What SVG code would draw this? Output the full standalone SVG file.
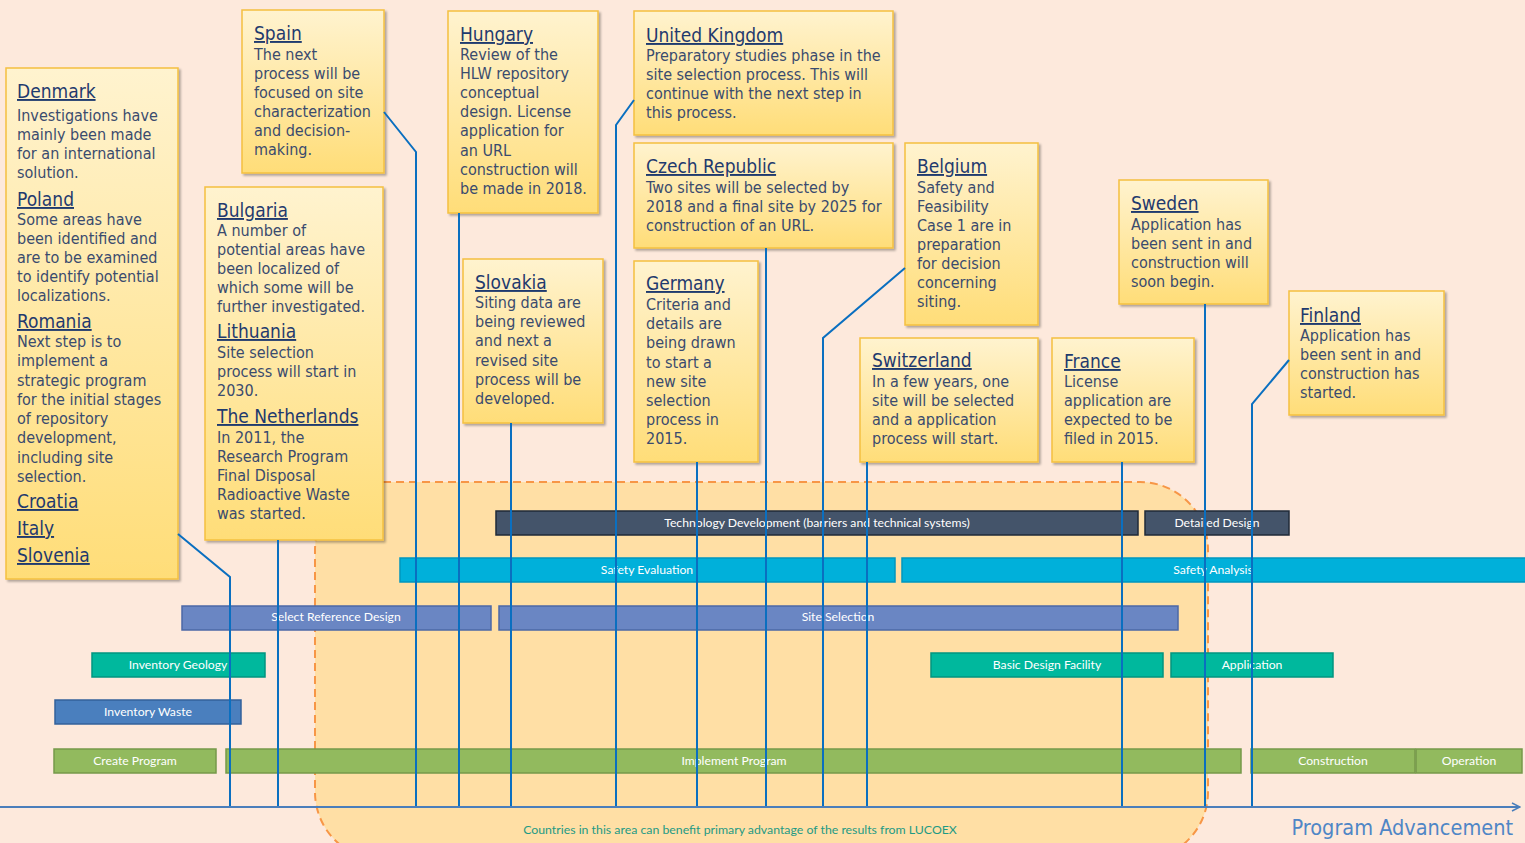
<svg xmlns="http://www.w3.org/2000/svg" width="1525" height="843" viewBox="0 0 1525 843">
<defs>
<linearGradient id="yg" x1="0" y1="0" x2="0" y2="1">
<stop offset="0" stop-color="#FFF3CF"/>
<stop offset="1" stop-color="#FFDD78"/>
</linearGradient>
<filter id="sh" x="-10%" y="-10%" width="130%" height="130%">
<feDropShadow dx="2" dy="2" stdDeviation="1.2" flood-color="#000" flood-opacity="0.3"/>
</filter>
<marker id="arr" viewBox="0 0 10 10" refX="9" refY="5" markerWidth="10" markerHeight="10" markerUnits="userSpaceOnUse" orient="auto">
<path d="M1,1 L9,5 L1,9" fill="none" stroke="#4A7EBB" stroke-width="1.5"/>
</marker>
<style>
.box rect { fill: url(#yg); stroke: #F5C040; stroke-width: 1.5; filter: url(#sh); }
.t { font-family: 'DejaVu Sans Condensed', 'Liberation Sans', sans-serif; font-size: 19px; fill: #1F3A6E; text-decoration: underline; }
.b { font-family: 'DejaVu Sans Condensed', 'Liberation Sans', sans-serif; font-size: 16px; fill: #3A4B6E; }
.bar text { font-family: Lato, 'Liberation Sans', sans-serif; font-size: 12.2px; fill: #FFFFFF; text-anchor: middle; }
.dk { fill: #44546A; stroke: #1F2A38; stroke-width: 1.5; }
.cy { fill: #00B0DA; stroke: #0096BE; stroke-width: 1.5; }
.pu { fill: #6A86C3; stroke: #4C68A6; stroke-width: 1.5; }
.te { fill: #00B89D; stroke: #009580; stroke-width: 1.5; }
.bl { fill: #4A7FBE; stroke: #33619A; stroke-width: 1.5; }
.gr { fill: #92BA5E; stroke: #76994A; stroke-width: 1.5; }
.conn path { stroke: #0A6FC0; stroke-width: 2; fill: none; }
</style>
</defs>

<rect x="0" y="0" width="1525" height="843" fill="#FDE9DC"/>

<g id="benefit-area">
<rect x="315" y="482" width="893" height="378" rx="68" ry="68" fill="#FFDFA5" stroke="#F79646" stroke-width="2" stroke-dasharray="8,5"/>
<text x="740" y="834" font-family="Lato, 'Liberation Sans', sans-serif" font-size="12.3" fill="#1E9A84" text-anchor="middle">Countries in this area can benefit primary advantage of the results from LUCOEX</text>
</g>

<g id="bars" class="bar">
<rect class="dk" x="496" y="511" width="642" height="24"/><text x="817" y="526.5">Technology Development (barriers and technical systems)</text>
<rect class="dk" x="1145" y="511" width="144" height="24"/><text x="1217" y="526.5">Detailed Design</text>
<rect class="cy" x="400" y="558" width="495" height="24"/><text x="647" y="573.5">Safety Evaluation</text>
<rect class="cy" x="902" y="558" width="630" height="24"/><text x="1213" y="573.5">Safety Analysis</text>
<rect class="pu" x="182" y="606" width="309" height="24"/><text x="336" y="620.5">Select Reference Design</text>
<rect class="pu" x="499" y="606" width="679" height="24"/><text x="838" y="620.5">Site Selection</text>
<rect class="te" x="92" y="653" width="173" height="24"/><text x="178" y="668.5">Inventory Geology</text>
<rect class="te" x="931" y="653" width="232" height="24"/><text x="1047" y="668.5">Basic Design Facility</text>
<rect class="te" x="1171" y="653" width="162" height="24"/><text x="1252" y="668.5">Application</text>
<rect class="bl" x="55" y="700" width="186" height="24"/><text x="148" y="715.5">Inventory Waste</text>
<rect class="gr" x="54" y="749" width="162" height="24"/><text x="135" y="764.5">Create Program</text>
<rect class="gr" x="226" y="749" width="1015" height="24"/><text x="734" y="764.5">Implement Program</text>
<rect class="gr" x="1251" y="749" width="164" height="24"/><text x="1333" y="764.5">Construction</text>
<rect class="gr" x="1416" y="749" width="106" height="24"/><text x="1469" y="764.5">Operation</text>
</g>

<g id="denmark" class="box">
<rect x="6" y="68" width="172" height="511"/>
<text class="t" x="17" y="98">Denmark</text>
<text class="b"><tspan x="17" y="121">Investigations have</tspan><tspan x="17" y="140">mainly been made</tspan><tspan x="17" y="159">for an international</tspan><tspan x="17" y="178">solution.</tspan></text>
<text class="t" x="17" y="206">Poland</text>
<text class="b"><tspan x="17" y="225">Some areas have</tspan><tspan x="17" y="244">been identified and</tspan><tspan x="17" y="263">are to be examined</tspan><tspan x="17" y="282">to identify potential</tspan><tspan x="17" y="301">localizations.</tspan></text>
<text class="t" x="17" y="328">Romania</text>
<text class="b"><tspan x="17" y="347">Next step is to</tspan><tspan x="17" y="366">implement a</tspan><tspan x="17" y="386">strategic program</tspan><tspan x="17" y="405">for the initial stages</tspan><tspan x="17" y="424">of repository</tspan><tspan x="17" y="443">development,</tspan><tspan x="17" y="463">including site</tspan><tspan x="17" y="482">selection.</tspan></text>
<text class="t" x="17" y="508">Croatia</text>
<text class="t" x="17" y="535">Italy</text>
<text class="t" x="17" y="562">Slovenia</text>
</g>

<g id="spain" class="box">
<rect x="242" y="10" width="142" height="163"/>
<text class="t" x="254" y="40">Spain</text>
<text class="b"><tspan x="254" y="60">The next</tspan><tspan x="254" y="79">process will be</tspan><tspan x="254" y="98">focused on site</tspan><tspan x="254" y="117">characterization</tspan><tspan x="254" y="136">and decision-</tspan><tspan x="254" y="155">making.</tspan></text>
</g>

<g id="bulgaria" class="box">
<rect x="205" y="187" width="178" height="353"/>
<text class="t" x="217" y="217">Bulgaria</text>
<text class="b"><tspan x="217" y="236">A number of</tspan><tspan x="217" y="255">potential areas have</tspan><tspan x="217" y="274">been localized of</tspan><tspan x="217" y="293">which some will be</tspan><tspan x="217" y="312">further investigated.</tspan></text>
<text class="t" x="217" y="338">Lithuania</text>
<text class="b"><tspan x="217" y="358">Site selection</tspan><tspan x="217" y="377">process will start in</tspan><tspan x="217" y="396">2030.</tspan></text>
<text class="t" x="217" y="423">The Netherlands</text>
<text class="b"><tspan x="217" y="443">In 2011, the</tspan><tspan x="217" y="462">Research Program</tspan><tspan x="217" y="481">Final Disposal</tspan><tspan x="217" y="500">Radioactive Waste</tspan><tspan x="217" y="519">was started.</tspan></text>
</g>

<g id="hungary" class="box">
<rect x="448" y="11" width="150" height="202"/>
<text class="t" x="460" y="41">Hungary</text>
<text class="b"><tspan x="460" y="60">Review of the</tspan><tspan x="460" y="79">HLW repository</tspan><tspan x="460" y="98">conceptual</tspan><tspan x="460" y="117">design. License</tspan><tspan x="460" y="136">application for</tspan><tspan x="460" y="156">an URL</tspan><tspan x="460" y="175">construction will</tspan><tspan x="460" y="194">be made in 2018.</tspan></text>
</g>

<g id="slovakia" class="box">
<rect x="463" y="259" width="140" height="164"/>
<text class="t" x="475" y="289">Slovakia</text>
<text class="b"><tspan x="475" y="308">Siting data are</tspan><tspan x="475" y="327">being reviewed</tspan><tspan x="475" y="346">and next a</tspan><tspan x="475" y="366">revised site</tspan><tspan x="475" y="385">process will be</tspan><tspan x="475" y="404">developed.</tspan></text>
</g>

<g id="uk" class="box">
<rect x="634" y="11" width="259" height="124"/>
<text class="t" x="646" y="42">United Kingdom</text>
<text class="b"><tspan x="646" y="61">Preparatory studies phase in the</tspan><tspan x="646" y="80">site selection process. This will</tspan><tspan x="646" y="99">continue with the next step in</tspan><tspan x="646" y="118">this process.</tspan></text>
</g>

<g id="czech" class="box">
<rect x="634" y="143" width="259" height="105"/>
<text class="t" x="646" y="173">Czech Republic</text>
<text class="b"><tspan x="646" y="193">Two sites will be selected by</tspan><tspan x="646" y="212">2018 and a final site by 2025 for</tspan><tspan x="646" y="231">construction of an URL.</tspan></text>
</g>

<g id="germany" class="box">
<rect x="634" y="261" width="124" height="201"/>
<text class="t" x="646" y="290">Germany</text>
<text class="b"><tspan x="646" y="310">Criteria and</tspan><tspan x="646" y="329">details are</tspan><tspan x="646" y="348">being drawn</tspan><tspan x="646" y="368">to start a</tspan><tspan x="646" y="387">new site</tspan><tspan x="646" y="406">selection</tspan><tspan x="646" y="425">process in</tspan><tspan x="646" y="444">2015.</tspan></text>
</g>

<g id="belgium" class="box">
<rect x="905" y="143" width="133" height="182"/>
<text class="t" x="917" y="173">Belgium</text>
<text class="b"><tspan x="917" y="193">Safety and</tspan><tspan x="917" y="212">Feasibility</tspan><tspan x="917" y="231">Case 1 are in</tspan><tspan x="917" y="250">preparation</tspan><tspan x="917" y="269">for decision</tspan><tspan x="917" y="288">concerning</tspan><tspan x="917" y="307">siting.</tspan></text>
</g>

<g id="switzerland" class="box">
<rect x="860" y="338" width="178" height="124"/>
<text class="t" x="872" y="367">Switzerland</text>
<text class="b"><tspan x="872" y="387">In a few years, one</tspan><tspan x="872" y="406">site will be selected</tspan><tspan x="872" y="425">and a application</tspan><tspan x="872" y="444">process will start.</tspan></text>
</g>

<g id="france" class="box">
<rect x="1052" y="338" width="142" height="124"/>
<text class="t" x="1064" y="368">France</text>
<text class="b"><tspan x="1064" y="387">License</tspan><tspan x="1064" y="406">application are</tspan><tspan x="1064" y="425">expected to be</tspan><tspan x="1064" y="444">filed in 2015.</tspan></text>
</g>

<g id="sweden" class="box">
<rect x="1119" y="180" width="149" height="124"/>
<text class="t" x="1131" y="210">Sweden</text>
<text class="b"><tspan x="1131" y="230">Application has</tspan><tspan x="1131" y="249">been sent in and</tspan><tspan x="1131" y="268">construction will</tspan><tspan x="1131" y="287">soon begin.</tspan></text>
</g>

<g id="finland" class="box">
<rect x="1289" y="291" width="155" height="124"/>
<text class="t" x="1300" y="322">Finland</text>
<text class="b"><tspan x="1300" y="341">Application has</tspan><tspan x="1300" y="360">been sent in and</tspan><tspan x="1300" y="379">construction has</tspan><tspan x="1300" y="398">started.</tspan></text>
</g>

<g id="connectors" class="conn">
<path d="M178 534 L230 577 V807"/>
<path d="M278 540 V807"/>
<path d="M384 112 L416 152 V807"/>
<path d="M459 213 V807"/>
<path d="M511 423 V807"/>
<path d="M634 100 L616 125 V807"/>
<path d="M697 462 V807"/>
<path d="M766 248 V807"/>
<path d="M905 268 L823 338 V807"/>
<path d="M867 462 V807"/>
<path d="M1122 462 V807"/>
<path d="M1205 304 V807"/>
<path d="M1289 360 L1252 404 V807"/>
</g>

<g id="axis">
<line x1="0" y1="807" x2="1520" y2="807" stroke="#4A7EBB" stroke-width="2" marker-end="url(#arr)"/>
<text x="1513" y="835" font-family="'DejaVu Sans Condensed', 'Liberation Sans', sans-serif" font-size="21.5" fill="#4F86C6" text-anchor="end">Program Advancement</text>
</g>
</svg>
